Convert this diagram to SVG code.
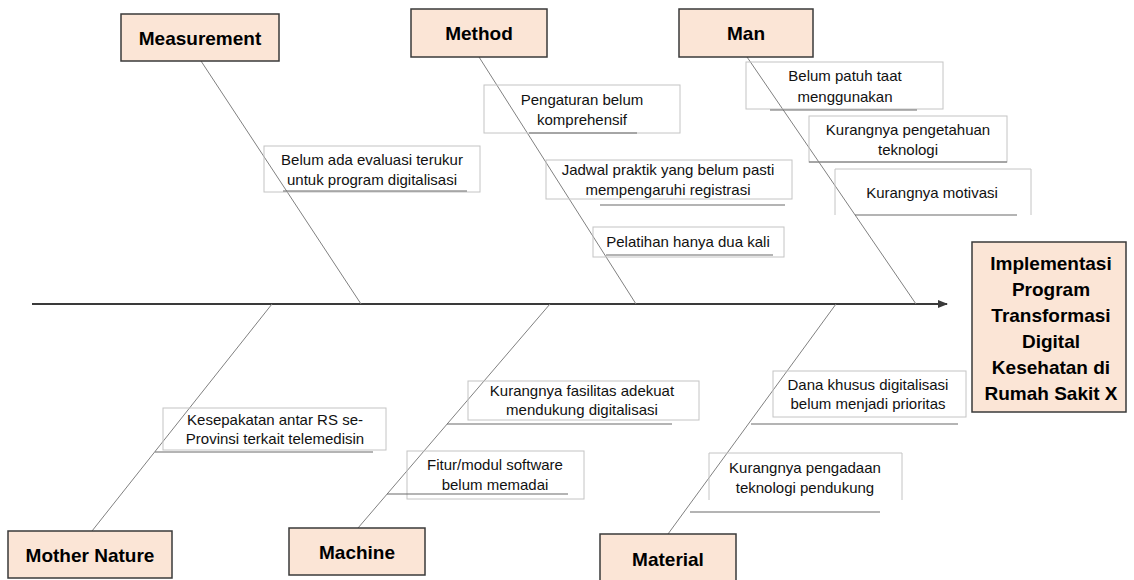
<svg xmlns="http://www.w3.org/2000/svg" width="1134" height="580" viewBox="0 0 1134 580">
<defs>
<style>
.cat{fill:#fbe5d6;stroke:#3a3a3a;stroke-width:1.5}
.ct{font-family:"Liberation Sans",Arial,sans-serif;font-weight:bold;font-size:19px;fill:#000;text-anchor:middle}
.tb{fill:none;stroke:#c4c4c4;stroke-width:1}
.tx{font-family:"Liberation Sans",Arial,sans-serif;font-size:15px;fill:#111;text-anchor:middle}
.ul{stroke:#6a6a6a;stroke-width:1.2}
.br{stroke:#808080;stroke-width:1;fill:none}
.spine{stroke:#3a3a3a;stroke-width:1.8;fill:none}
</style>
<marker id="ah" markerWidth="10" markerHeight="8" refX="9" refY="4" orient="auto" markerUnits="userSpaceOnUse">
<path d="M0,0 L10,4 L0,8 z" fill="#3a3a3a"/>
</marker>
</defs>
<rect width="1134" height="580" fill="#fff"/>
<g id="connectors">
<line class="spine" x1="32" y1="304" x2="947" y2="304" marker-end="url(#ah)"/>
<line class="br" x1="201" y1="61" x2="361" y2="304"/>
<line class="br" x1="479" y1="57" x2="636" y2="304"/>
<line class="br" x1="747" y1="57" x2="916" y2="304"/>
<line class="br" x1="92" y1="531" x2="272" y2="304"/>
<line class="br" x1="358" y1="528" x2="550" y2="304"/>
<line class="br" x1="668" y1="534" x2="836" y2="304"/>
</g>
<g id="measurement"><rect class="cat" x="121" y="14" width="158" height="47"/><text class="ct" x="200" y="45">Measurement</text></g>
<g id="method"><rect class="cat" x="411" y="9" width="136" height="48"/><text class="ct" x="479" y="40">Method</text></g>
<g id="man"><rect class="cat" x="679" y="9" width="134" height="48"/><text class="ct" x="746" y="40">Man</text></g>
<g id="mother-nature"><rect class="cat" x="8" y="531" width="164" height="47"/><text class="ct" x="90" y="562">Mother Nature</text></g>
<g id="machine"><rect class="cat" x="289" y="528" width="136" height="47"/><text class="ct" x="357" y="559">Machine</text></g>
<g id="material"><rect class="cat" x="600" y="534" width="136" height="50"/><text class="ct" x="668" y="566">Material</text></g>
<g id="effect"><rect class="cat" x="972" y="242" width="154" height="170"/>
<text class="ct" x="1051" y="270">Implementasi</text>
<text class="ct" x="1051" y="296">Program</text>
<text class="ct" x="1051" y="322">Transformasi</text>
<text class="ct" x="1051" y="348">Digital</text>
<text class="ct" x="1051" y="374">Kesehatan di</text>
<text class="ct" x="1051" y="400">Rumah Sakit X</text></g>
<g id="cause-evaluasi"><rect class="tb" x="264" y="146" width="216" height="46"/><text class="tx" x="372" y="165">Belum ada evaluasi terukur</text><text class="tx" x="372" y="185">untuk program digitalisasi</text><line class="ul" x1="283" y1="191" x2="467" y2="191"/></g>
<g id="cause-pengaturan"><rect class="tb" x="484" y="85" width="196" height="48"/><text class="tx" x="582" y="105">Pengaturan belum</text><text class="tx" x="582" y="125">komprehensif</text><line class="ul" x1="529" y1="133" x2="637" y2="133"/></g>
<g id="cause-jadwal"><rect class="tb" x="546" y="160" width="246" height="39"/><text class="tx" x="668" y="175">Jadwal praktik yang belum pasti</text><text class="tx" x="668" y="195">mempengaruhi registrasi</text><line class="ul" x1="600" y1="205" x2="785" y2="205"/></g>
<g id="cause-pelatihan"><rect class="tb" x="593" y="227" width="191" height="30"/><text class="tx" x="688" y="247">Pelatihan hanya dua kali</text><line class="ul" x1="606" y1="255" x2="773" y2="255"/></g>
<g id="cause-patuh"><rect class="tb" x="746" y="62" width="197" height="47"/><text class="tx" x="845" y="81">Belum patuh taat</text><text class="tx" x="845" y="102">menggunakan</text><line class="ul" x1="770" y1="110" x2="917" y2="110"/></g>
<g id="cause-pengetahuan"><rect class="tb" x="809" y="116" width="198" height="46"/><text class="tx" x="908" y="135">Kurangnya pengetahuan</text><text class="tx" x="908" y="155">teknologi</text><line class="ul" x1="809" y1="162" x2="1007" y2="162"/></g>
<g id="cause-motivasi"><path class="tb" d="M835,215 V169 H1031 V215"/><text class="tx" x="932" y="198">Kurangnya motivasi</text><line class="ul" x1="855" y1="215" x2="1017" y2="215"/></g>
<g id="cause-kesepakatan"><rect class="tb" x="163" y="408" width="223" height="42"/><text class="tx" x="275" y="425">Kesepakatan antar RS se-</text><text class="tx" x="275" y="444">Provinsi terkait telemedisin</text><line class="ul" x1="155" y1="452" x2="373" y2="452"/></g>
<g id="cause-fasilitas"><rect class="tb" x="468" y="381" width="231" height="39"/><text class="tx" x="582" y="396">Kurangnya fasilitas adekuat</text><text class="tx" x="582" y="415">mendukung digitalisasi</text><line class="ul" x1="447" y1="424" x2="672" y2="424"/></g>
<g id="cause-fitur"><rect class="tb" x="407" y="451" width="177" height="48"/><text class="tx" x="495" y="470">Fitur/modul software</text><text class="tx" x="495" y="490">belum memadai</text><line class="ul" x1="387" y1="494" x2="568" y2="494"/></g>
<g id="cause-dana"><rect class="tb" x="773" y="371" width="193" height="46"/><text class="tx" x="868" y="390">Dana khusus digitalisasi</text><text class="tx" x="868" y="409">belum menjadi prioritas</text><line class="ul" x1="751" y1="424" x2="958" y2="424"/></g>
<g id="cause-pengadaan"><path class="tb" d="M709,500 V453 H902 V500"/><text class="tx" x="805" y="473">Kurangnya pengadaan</text><text class="tx" x="805" y="493">teknologi pendukung</text><line class="ul" x1="690" y1="512" x2="880" y2="512"/></g>
</svg>
